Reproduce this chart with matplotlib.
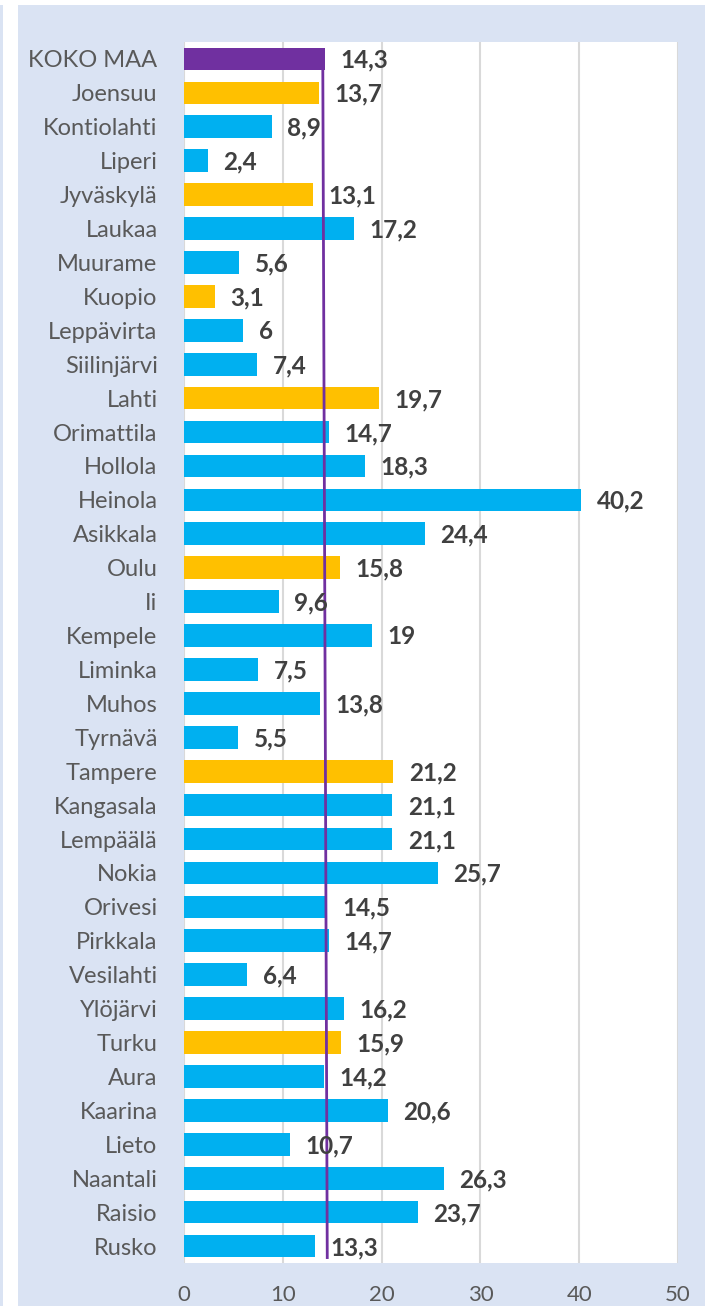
import matplotlib.pyplot as plt
from matplotlib.patches import Rectangle

# data
kunnat = ['KOKO MAA', 'Joensuu', 'Kontiolahti', 'Liperi', 'Jyväskylä', 'Laukaa',
          'Muurame', 'Kuopio', 'Leppävirta', 'Siilinjärvi', 'Lahti', 'Orimattila',
          'Hollola', 'Heinola', 'Asikkala', 'Oulu', 'Ii', 'Kempele', 'Liminka',
          'Muhos', 'Tyrnävä', 'Tampere', 'Kangasala', 'Lempäälä', 'Nokia',
          'Orivesi', 'Pirkkala', 'Vesilahti', 'Ylöjärvi', 'Turku', 'Aura',
          'Kaarina', 'Lieto', 'Naantali', 'Raisio', 'Rusko']
arvot = [14.3, 13.7, 8.9, 2.4, 13.1, 17.2, 5.6, 3.1, 6, 7.4, 19.7, 14.7,
         18.3, 40.2, 24.4, 15.8, 9.6, 19, 7.5, 13.8, 5.5, 21.2, 21.1, 21.1,
         25.7, 14.5, 14.7, 6.4, 16.2, 15.9, 14.2, 20.6, 10.7, 26.3, 23.7, 13.3]
keskuskaupungit = ['Joensuu', 'Jyväskylä', 'Kuopio', 'Lahti', 'Oulu', 'Tampere', 'Turku']
koko_maa = 14.3
x_ticks = [0, 10, 20, 30, 40, 50]

plt.rcParams['font.family'] = ['Lato', 'DejaVu Sans']

W, H = 705, 1306
fig = plt.figure(figsize=(W / 100, H / 100), dpi=100)
fig.patch.set_facecolor('#dae3f3')
# white strips at the top and left edge
fig.patches.append(Rectangle((0, 1 - 5 / H), 1, 5 / H, transform=fig.transFigure,
                             facecolor='white', edgecolor='none', zorder=-10))
fig.patches.append(Rectangle((3 / W, 0), 15 / W, 1, transform=fig.transFigure,
                             facecolor='white', edgecolor='none', zorder=-10))

ax = fig.add_axes([184 / W, 1 - 1263 / H, (678 - 184) / W, (1263 - 42) / H])
ax.set_facecolor('white')

colors = []
for k in kunnat:
    if k == 'KOKO MAA':
        colors.append('#7030a0')
    elif k in keskuskaupungit:
        colors.append('#ffc000')
    else:
        colors.append('#00b0f0')

y = list(range(len(kunnat)))
ax.barh(y, arvot, height=0.67, color=colors, zorder=2)

# koko maan viiva
ax.plot([koko_maa - 0.25, koko_maa + 0.2], [0.34, len(kunnat) - 0.66],
        color='#7030a0', linewidth=2, zorder=3)

for yi, v in zip(y, arvot):
    ax.annotate(f'{v:g}'.replace('.', ','), (v, yi), xytext=(11, -1),
                textcoords='offset points', va='center', ha='left',
                fontsize=17.5, fontweight='bold', color='#404040', zorder=4)

ax.set_xlim(0, 50)
ax.set_ylim(len(kunnat) - 0.5, -0.5)
ax.set_xticks(x_ticks)
ax.set_yticks(y)
ax.set_yticklabels(kunnat)
ax.tick_params(axis='y', length=0, pad=19, labelsize=17, labelcolor='#595959')
ax.tick_params(axis='x', length=0, pad=16, labelsize=16, labelcolor='#595959')
ax.grid(True, axis='x', color='#d9d9d9', linewidth=1.5, zorder=0)
ax.set_axisbelow(True)
for s in ax.spines.values():
    s.set_visible(False)

fig.savefig('out.png', dpi=100)
